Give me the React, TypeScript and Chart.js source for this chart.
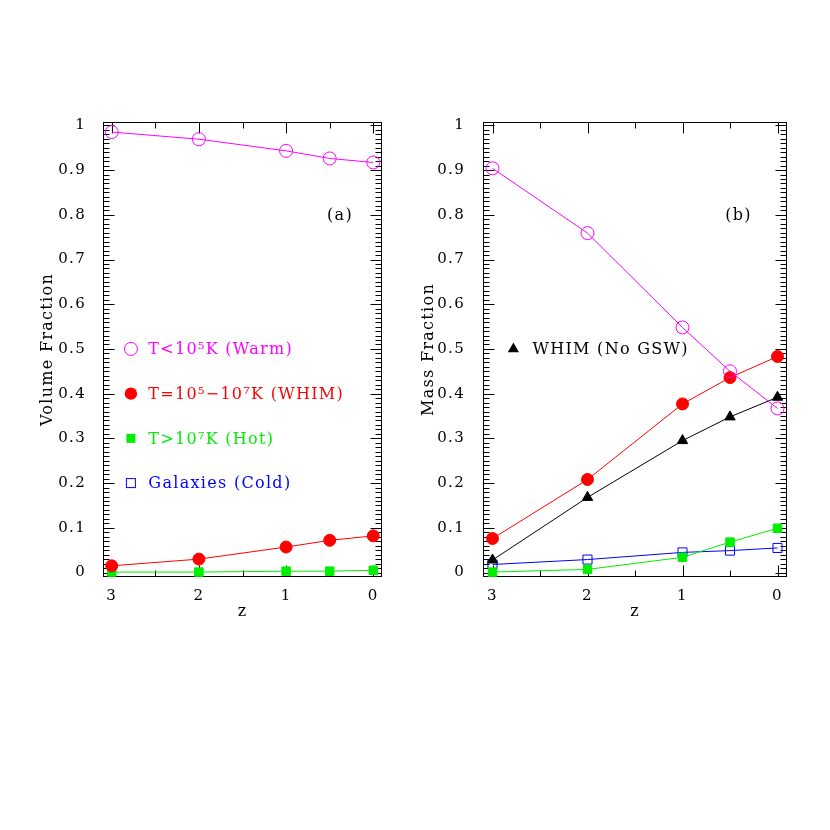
import React, { useEffect, useRef } from 'react';
import { Chart, registerables } from 'chart.js';

Chart.register(...registerables);

// ---------- data ----------
const redshifts = [3, 2, 1, 0.5, 0];

// (a) volume fractions
const volWarm = [0.985, 0.969, 0.943, 0.926, 0.917];
const volWhim = [0.015, 0.030, 0.057, 0.072, 0.082];
const volHot = [0.001, 0.001, 0.003, 0.003, 0.005];

// (b) mass fractions
const massWarm = [0.904, 0.759, 0.548, 0.450, 0.367];
const massWhim = [0.076, 0.208, 0.377, 0.436, 0.483];
const massWhimNoGsw = [0.028, 0.168, 0.295, 0.348, 0.392];
const massHot = [0.001, 0.007, 0.034, 0.068, 0.099];
const massGal = [0.018, 0.029, 0.045, 0.049, 0.055];

const yTickLabels = ['0', '0.1', '0.2', '0.3', '0.4', '0.5', '0.6', '0.7', '0.8', '0.9', '1'];
const xTickLabels = ['0', '1', '2', '3'];

const legendLabelsA = ['T<10\u2075K (Warm)', 'T=10\u2075\u221210\u2077K (WHIM)', 'T>10\u2077K (Hot)', 'Galaxies (Cold)'];
const legendRowsA = [0.5, 0.4, 0.3, 0.2];
const legendLabelsB = ['WHIM (No GSW)'];
const legendRowsB = [0.5];

const MAGENTA = '#ff00ff';
const RED = '#ff0000';
const GREEN = '#00ee00';
const BLUE = '#0000ff';
const BLACK = '#000000';
const FONT = 'DejaVu Serif';

type Sym = 'openCircle' | 'filledCircle' | 'filledSquare' | 'openSquare' | 'triangle';

function drawSymbol(ctx: CanvasRenderingContext2D, kind: Sym, x: number, y: number, color: string) {
  ctx.save();
  ctx.strokeStyle = color;
  ctx.fillStyle = color;
  ctx.lineWidth = 1;
  ctx.beginPath();
  if (kind === 'openCircle') {
    ctx.arc(x, y, 6.5, 0, Math.PI * 2);
    ctx.stroke();
  } else if (kind === 'filledCircle') {
    ctx.arc(x, y, 6.2, 0, Math.PI * 2);
    ctx.fill();
  } else if (kind === 'filledSquare') {
    ctx.fillRect(x - 4.5, y - 4.5, 9, 9);
  } else if (kind === 'openSquare') {
    ctx.strokeRect(x - 4.5, y - 4.5, 9, 9);
  } else {
    ctx.moveTo(x, y - 6.5);
    ctx.lineTo(x + 5.6, y + 3.2);
    ctx.lineTo(x - 5.6, y + 3.2);
    ctx.closePath();
    ctx.fill();
  }
  ctx.restore();
}

function ds(label: string, values: number[], color: string, style: string, filled: boolean, radius: number) {
  return {
    label,
    data: redshifts.map((z, i) => ({ x: z, y: values[i] })),
    borderColor: color,
    backgroundColor: color,
    borderWidth: 1,
    pointStyle: style,
    pointRadius: radius,
    pointBorderWidth: 1,
    pointBackgroundColor: filled ? color : 'rgba(0,0,0,0)',
    pointBorderColor: color,
    fill: false,
    tension: 0,
  };
}

const framePlugin = {
  id: 'frameTicks',
  beforeDraw(chart: any) {
    chart.ctx.letterSpacing = '1.3px';
  },
  beforeDatasetsDraw(chart: any) {
    const { ctx, chartArea: a, scales } = chart;
    const xs = scales.x;
    const ys = scales.y;
    const L = Math.round(a.left) + 0.5;
    const R = Math.round(a.right) - 0.5;
    const T = Math.round(a.top) + 0.5;
    const B = Math.round(a.bottom) - 0.5;
    ctx.save();
    ctx.strokeStyle = '#000';
    ctx.lineWidth = 1;
    ctx.strokeRect(L, T, R - L, B - T);
    ctx.beginPath();
    for (let i = 0; i <= 100; i++) {
      const py = Math.round(ys.getPixelForValue(i / 100)) + 0.5;
      const len = i % 10 === 0 ? 11 : 6;
      ctx.moveTo(L, py);
      ctx.lineTo(L + len, py);
      ctx.moveTo(R, py);
      ctx.lineTo(R - len, py);
    }
    for (let i = 0; i <= 6; i++) {
      const px = Math.round(xs.getPixelForValue(i / 2)) + 0.5;
      const len = i % 2 === 0 ? 11 : 6;
      ctx.moveTo(px, T);
      ctx.lineTo(px, T + len);
      ctx.moveTo(px, B);
      ctx.lineTo(px, B - len);
    }
    ctx.stroke();
    ctx.restore();
  },
};

function notesPlugin(labels: string[], rows: number[], colors: string[], syms: Sym[], panel: string, panelX: number) {
  return {
    id: 'notes',
    afterDraw(chart: any) {
      const { ctx, scales } = chart;
      const xs = scales.x;
      const ys = scales.y;
      ctx.save();
      ctx.letterSpacing = '1.3px';
      ctx.font = `16px "${FONT}"`;
      ctx.textBaseline = 'middle';
      ctx.textAlign = 'left';
      labels.forEach((lab, i) => {
        const py = ys.getPixelForValue(rows[i]);
        drawSymbol(ctx, syms[i], xs.getPixelForValue(2.78), py, colors[i]);
        ctx.fillStyle = colors[i];
        ctx.fillText(lab, xs.getPixelForValue(2.58), py + 1);
      });
      ctx.fillStyle = '#000';
      ctx.fillText(panel, xs.getPixelForValue(panelX), ys.getPixelForValue(0.8) + 1);
      ctx.restore();
    },
  };
}

function makeOptions(yTitle: string, yWidth: number, titlePad: number, tickPad: number, padRight: number) {
  return {
    responsive: false,
    maintainAspectRatio: false,
    animation: false,
    events: [],
    layout: { padding: { left: 0, right: padRight, top: 122, bottom: 203 } },
    plugins: { legend: { display: false }, tooltip: { enabled: false } },
    scales: {
      x: {
        type: 'linear',
        min: -0.1,
        max: 3.1,
        reverse: true,
        grid: { display: false },
        border: { display: false },
        ticks: {
          stepSize: 1,
          includeBounds: false,
          padding: 2,
          color: '#000',
          maxRotation: 0,
          font: { family: FONT, size: 15 },
          callback: (v: number) => xTickLabels[Math.round(v)] ?? '',
        },
        title: { display: true, text: 'z', color: '#000', font: { family: FONT, size: 16 }, padding: { top: 0, bottom: 6 } },
        afterFit: (s: any) => { s.height = 50; },
      },
      y: {
        type: 'linear',
        min: -0.01,
        max: 1.0075,
        grid: { display: false },
        border: { display: false },
        ticks: {
          stepSize: 0.1,
          includeBounds: false,
          padding: tickPad,
          color: '#000',
          font: { family: FONT, size: 15 },
          callback: (v: number) => yTickLabels[Math.round(v * 10)] ?? '',
        },
        title: { display: true, text: yTitle, color: '#000', font: { family: FONT, size: 16 }, padding: { top: titlePad, bottom: 0 } },
        afterFit: (s: any) => { s.width = yWidth; },
      },
    },
  };
}

export default function App() {
  const refA = useRef<HTMLCanvasElement | null>(null);
  const refB = useRef<HTMLCanvasElement | null>(null);

  useEffect(() => {
    const chartA = new Chart(refA.current as HTMLCanvasElement, {
      type: 'line',
      data: {
        datasets: [
          ds('Warm', volWarm, MAGENTA, 'circle', false, 6.5),
          ds('WHIM', volWhim, RED, 'circle', true, 6),
          ds('Hot', volHot, GREEN, 'rect', true, 6),
        ] as any,
      },
      options: makeOptions('Volume Fraction', 103, 38, 9, 38) as any,
      plugins: [
        framePlugin,
        notesPlugin(legendLabelsA, legendRowsA, [MAGENTA, RED, GREEN, BLUE],
          ['openCircle', 'filledCircle', 'filledSquare', 'openSquare'], '(a)', 0.53),
      ] as any,
    });
    const chartB = new Chart(refB.current as HTMLCanvasElement, {
      type: 'line',
      data: {
        datasets: [
          ds('Warm', massWarm, MAGENTA, 'circle', false, 6.5),
          ds('WHIM', massWhim, RED, 'circle', true, 6),
          ds('WHIM (No GSW)', massWhimNoGsw, BLACK, 'triangle', true, 6),
          ds('Hot', massHot, GREEN, 'rect', true, 6),
          ds('Galaxies', massGal, BLUE, 'rect', false, 6.4),
        ] as any,
      },
      options: makeOptions('Mass Fraction', 73, 9, 10, 43) as any,
      plugins: [
        framePlugin,
        notesPlugin(legendLabelsB, legendRowsB, [BLACK], ['triangle'], '(b)', 0.55),
      ] as any,
    });
    return () => {
      chartA.destroy();
      chartB.destroy();
    };
  }, []);

  return (
    <div style={{ position: 'fixed', left: 0, top: 0, width: 830, height: 830, background: '#fff' }}>
      <canvas ref={refA} width={420} height={830} style={{ position: 'absolute', left: 0, top: 0 }} />
      <canvas ref={refB} width={420} height={830} style={{ position: 'absolute', left: 410, top: 0 }} />
    </div>
  );
}
